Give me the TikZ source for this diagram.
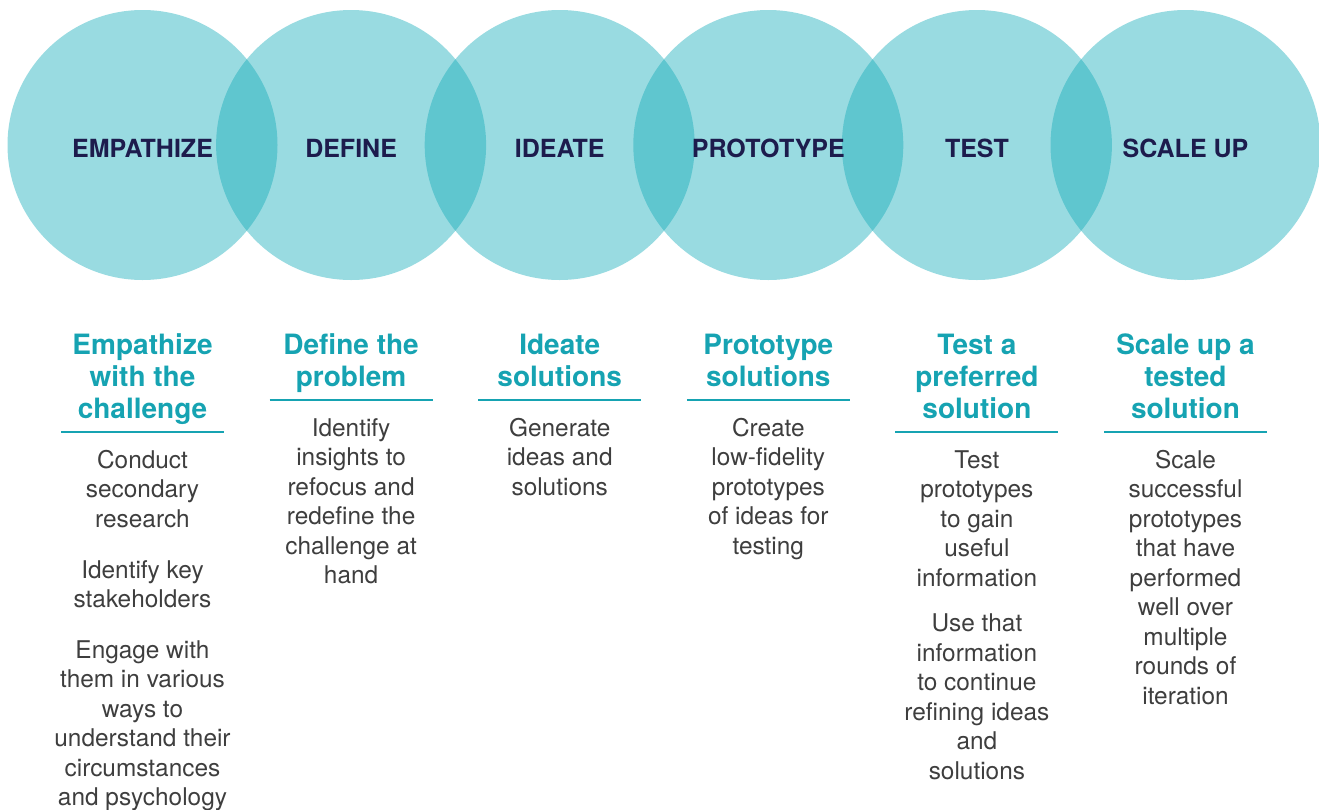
\documentclass[tikz,border=0pt]{standalone}
\usepackage{fontspec}
\setmainfont{TeX Gyre Heros}
\definecolor{ring}{RGB}{13,169,183}
\definecolor{headteal}{RGB}{22,163,178}
\definecolor{navy}{RGB}{29,28,77}
\definecolor{bodygray}{RGB}{62,62,62}
\begin{document}
\begin{tikzpicture}[x=1pt,y=-1pt,
  stage/.style={circle, fill=ring, fill opacity=0.42, draw=none,
    minimum size=270pt, inner sep=0pt},
  stagename/.style={anchor=base, inner sep=0pt, text=navy,
    font=\fontsize{25}{28}\selectfont\bfseries},
  heading/.style={anchor=north, align=center, inner sep=0pt, text=headteal,
    font=\fontsize{28}{32}\selectfont\bfseries},
  bodytext/.style={anchor=north, align=center, inner sep=0pt, text=bodygray,
    font=\fontsize{24.4}{29.5}\selectfont},
  divider/.style={draw=headteal, line width=1.4pt}]
\useasboundingbox (0,0) rectangle (1319,809);

% overlapping stage circles
\node[stage] (c1) at (142.5,145) {};
\node[stage] (c2) at (351.1,145) {};
\node[stage] (c3) at (559.7,145) {};
\node[stage] (c4) at (768.3,145) {};
\node[stage] (c5) at (976.9,145) {};
\node[stage] (c6) at (1185.5,145) {};

% stage names
\node[stagename] (n1) at (142.5,157) {EMPATHIZE};
\node[stagename] (n2) at (351.1,157) {DEFINE};
\node[stagename] (n3) at (559.7,157) {IDEATE};
\node[stagename] (n4) at (768.3,157) {PROTOTYPE};
\node[stagename] (n5) at (976.9,157) {TEST};
\node[stagename] (n6) at (1185.5,157) {SCALE UP};

% headings (first baseline 22pt below the node top)
\node[heading] (h1) at (142.5,332) {\rule{0pt}{22pt}Empathize\\with the\\challenge};
\node[heading] (h2) at (351.1,332) {\rule{0pt}{22pt}Define the\\problem};
\node[heading] (h3) at (559.7,332) {\rule{0pt}{22pt}Ideate\\solutions};
\node[heading] (h4) at (768.3,332) {\rule{0pt}{22pt}Prototype\\solutions};
\node[heading] (h5) at (976.9,332) {\rule{0pt}{22pt}Test a\\preferred\\solution};
\node[heading] (h6) at (1185.5,332) {\rule{0pt}{22pt}Scale up a\\tested\\solution};

% rules under the headings
\draw[divider] (61,432) -- (224,432);
\draw[divider] (269.6,400) -- (432.6,400);
\draw[divider] (478.2,400) -- (641.2,400);
\draw[divider] (686.8,400) -- (849.8,400);
\draw[divider] (895.4,432) -- (1058.4,432);
\draw[divider] (1104,432) -- (1267,432);

% descriptions (first baseline 20pt below the node top)
\node[bodytext] (b1a) at (142.5,448) {\rule{0pt}{20pt}Conduct\\secondary\\research};
\node[bodytext] (b1b) at (142.5,558) {\rule{0pt}{20pt}Identify key\\stakeholders};
\node[bodytext] (b1c) at (142.5,638) {\rule{0pt}{20pt}Engage with\\them in various\\ways to\\understand their\\circumstances\\and psychology};
\node[bodytext] (b2) at (351.1,416) {\rule{0pt}{20pt}Identify\\insights to\\refocus and\\redefine the\\challenge at\\hand};
\node[bodytext] (b3) at (559.7,416) {\rule{0pt}{20pt}Generate\\ideas and\\solutions};
\node[bodytext] (b4) at (768.3,416) {\rule{0pt}{20pt}Create\\low-fidelity\\prototypes\\of ideas for\\testing};
\node[bodytext] (b5a) at (976.9,448) {\rule{0pt}{20pt}Test\\prototypes\\to gain\\useful\\information};
\node[bodytext] (b5b) at (976.9,611.5) {\rule{0pt}{20pt}Use that\\information\\to continue\\refining ideas\\and\\solutions};
\node[bodytext] (b6) at (1185.5,448) {\rule{0pt}{20pt}Scale\\successful\\prototypes\\that have\\performed\\well over\\multiple\\rounds of\\iteration};
\end{tikzpicture}
\end{document}
